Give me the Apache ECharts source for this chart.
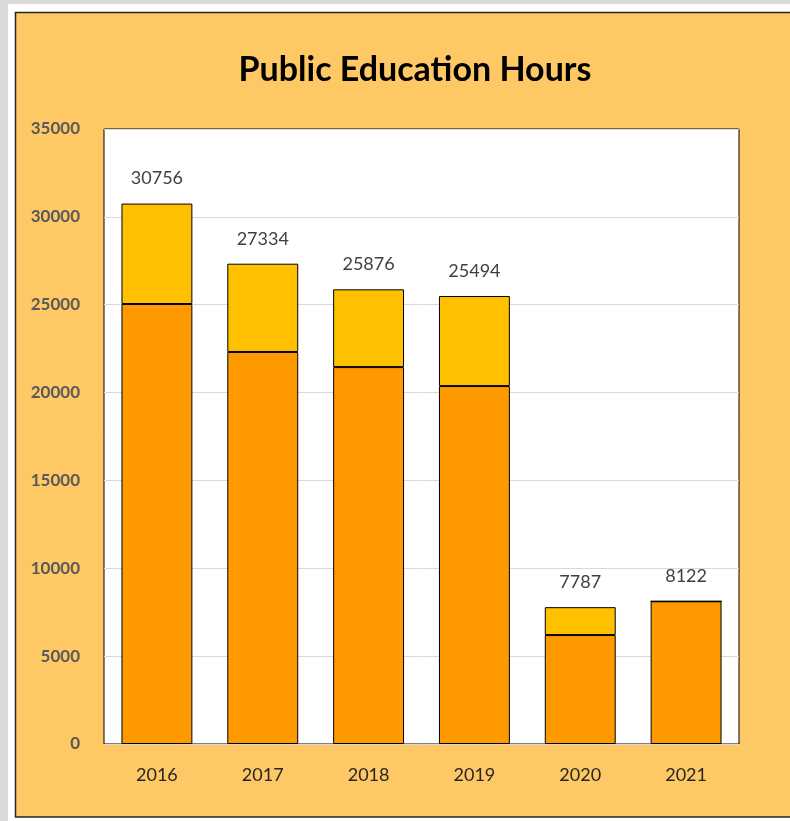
<!DOCTYPE html>
<html>
<head>
<meta charset="utf-8">
<script src="https://cdn.jsdelivr.net/npm/echarts@6/dist/echarts.min.js"></script>
<style>html,body{margin:0;padding:0;background:#d9d9d9;}#c{width:790px;height:821px;}</style>
</head>
<body>
<div id="c"></div>
<script>
const years = ['2016', '2017', '2018', '2019', '2020', '2021'];
const baseHours = [25040, 22310, 21450, 20370, 6200, 8122];
const extraHours = [5716, 5024, 4426, 5124, 1587, 0];
const totals = [30756, 27334, 25876, 25494, 7787, 8122];
const yTicks = [0, 5000, 10000, 15000, 20000, 25000, 30000, 35000];
const chartTitle = 'Public Education Hours';

const chart = echarts.init(document.getElementById('c'));
chart.setOption({
  backgroundColor: '#d9d9d9',
  animation: false,
  graphic: [
    { type: 'rect', shape: { x: 8, y: 4, width: 790, height: 830 }, style: { fill: '#ffffff' }, z: -10 },
    { type: 'rect', shape: { x: 15.5, y: 12.5, width: 790, height: 804.5 }, style: { fill: '#fec864', stroke: '#262626', lineWidth: 1.5 }, z: -9 },
    { type: 'text', x: 415, y: 70, style: { text: chartTitle, align: 'center', verticalAlign: 'middle', fontFamily: 'Lato', fontWeight: 'bold', fontSize: 34, fill: '#000000' }, z: 10 }
  ],
  grid: {
    left: 104, top: 129, width: 635, height: 615,
    show: true, backgroundColor: '#ffffff', borderColor: '#000000', borderWidth: 1
  },
  xAxis: {
    type: 'category',
    data: years,
    axisLine: { show: false },
    axisTick: { show: false },
    axisLabel: { margin: 22, fontFamily: 'Lato', fontSize: 18, color: '#262626' }
  },
  yAxis: {
    type: 'value',
    min: yTicks[0],
    max: yTicks[yTicks.length - 1],
    interval: 5000,
    axisLine: { show: false },
    axisTick: { show: false },
    splitLine: { lineStyle: { color: '#d9d9d9', width: 1 } },
    axisLabel: { margin: 24, formatter: v => String(v), fontFamily: 'Lato', fontWeight: 'bold', fontSize: 17, color: '#595959' }
  },
  series: [
    {
      type: 'bar', stack: 'h', data: baseHours, barWidth: '67%',
      itemStyle: { color: '#ff9900', borderColor: '#000000', borderWidth: 1 }
    },
    {
      type: 'bar', stack: 'h', data: extraHours, barWidth: '67%',
      itemStyle: { color: '#ffc000', borderColor: '#000000', borderWidth: 1 },
      label: {
        show: true, position: 'top', distance: 16,
        formatter: p => String(totals[p.dataIndex]),
        fontFamily: 'Lato', fontSize: 18, color: '#404040'
      }
    }
  ]
});
</script>
</body>
</html>
